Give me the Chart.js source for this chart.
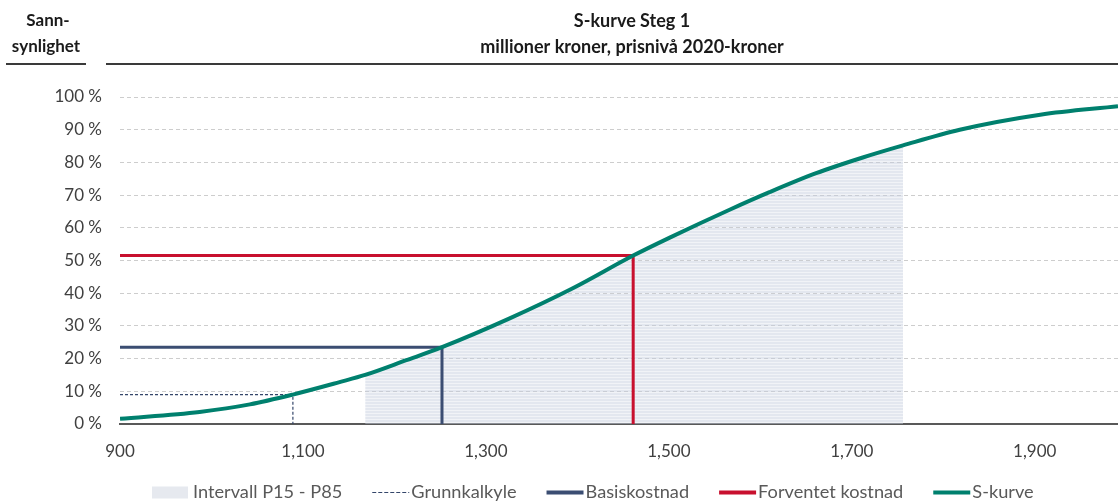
<!DOCTYPE html>
<html>
<head>
<meta charset="utf-8">
<script src="https://cdn.jsdelivr.net/npm/chart.js@4.4.1/dist/chart.umd.min.js"></script>
<style>
  html, body { margin: 0; padding: 0; background: #ffffff; }
  #wrap { width: 1118px; height: 501px; position: relative; }
</style>
</head>
<body>
<div id="wrap"><canvas id="c" width="1118" height="501"></canvas></div>
<script>
// S-curve: cost (MNOK) against cumulative probability (%)
const sCost = [900, 987, 1042, 1089, 1140, 1168, 1213, 1252, 1326, 1395, 1461, 1501, 1567, 1610, 1661, 1712, 1756, 1818, 1906, 1991];
const sProb = [1.6, 3.7, 6.0, 9.0, 12.8, 15.0, 19.5, 23.5, 32.3, 41.5, 51.5, 57.0, 65.6, 70.9, 76.7, 81.5, 85.2, 90.0, 94.6, 97.2];

// Interval P15 - P85 (cost bounds)
const intervalLow = 1168;
const intervalHigh = 1756;

// Reference estimates: cost and probability
const markerNames = ['Grunnkalkyle', 'Basiskostnad', 'Forventet kostnad'];
const markerCost = [1089, 1252, 1461];
const markerProb = [9.0, 23.5, 51.5];

// Axis ticks
const xTicks = [900, 1100, 1300, 1500, 1700, 1900];
const yTicks = [0, 10, 20, 30, 40, 50, 60, 70, 80, 90, 100];

// Titles and legend labels
const titleLines = ['S-kurve Steg 1', 'millioner kroner, prisnivå 2020-kroner'];
const yTitleLines = ['Sann-', 'synlighet'];
const legendLabels = ['Intervall P15 - P85', 'Grunnkalkyle', 'Basiskostnad', 'Forventet kostnad', 'S-kurve'];

const FONT = 'Lato, "Open Sans", "Liberation Sans", sans-serif';
const C_TEAL = '#00806E';
const C_NAVY = '#3B4D72';
const C_RED = '#C8102E';
const C_DASH = '#34466A';
const C_TEXT = '#404040';

// Striped fill for the interval
function stripePattern() {
  const p = document.createElement('canvas');
  p.width = 4; p.height = 3;
  const g = p.getContext('2d');
  g.fillStyle = 'rgba(196,205,222,0.48)';
  g.fillRect(0, 0, 4, 2);
  g.fillStyle = 'rgba(196,205,222,0.24)';
  g.fillRect(0, 2, 4, 1);
  return document.getElementById('c').getContext('2d').createPattern(p, 'repeat');
}

const curvePoints = sCost.map((c, i) => ({ x: c, y: sProb[i] }));
const intervalPoints = curvePoints.filter(p => p.x >= intervalLow && p.x <= intervalHigh);

const markerColors = [C_DASH, C_NAVY, C_RED];
const markerWidths = [1.2, 3, 3];
const markerDash = [[3, 2], [], []];
const markerSets = markerNames.map((name, i) => ({
  label: name,
  data: [
    { x: 900, y: markerProb[i] },
    { x: markerCost[i], y: markerProb[i] },
    { x: markerCost[i], y: 0 }
  ],
  borderColor: markerColors[i],
  borderWidth: markerWidths[i],
  borderDash: markerDash[i],
  pointRadius: 0,
  tension: 0,
  fill: false,
  order: 1
}));

// Titles, header rules and legend
const decorPlugin = {
  id: 'decor',
  afterDraw(chart) {
    const ctx = chart.ctx;
    ctx.save();
    ctx.fillStyle = '#1a1a1a';
    ctx.textAlign = 'center';
    ctx.textBaseline = 'middle';
    ctx.font = 'bold 17px ' + FONT;
    ctx.fillText(yTitleLines[0], 48, 21);
    ctx.fillText(yTitleLines[1], 46, 47);
    ctx.font = 'bold 18px ' + FONT;
    ctx.fillText(titleLines[0], 632, 21);
    ctx.fillText(titleLines[1], 632, 47);

    ctx.strokeStyle = '#3a3a3a';
    ctx.lineWidth = 2;
    ctx.beginPath();
    ctx.moveTo(6, 64); ctx.lineTo(86, 64);
    ctx.moveTo(106, 64); ctx.lineTo(1118, 64);
    ctx.stroke();

    // legend
    const ly = 492.5;
    let x = 152;
    ctx.font = '18.2px ' + FONT;
    ctx.textAlign = 'left';
    legendLabels.forEach((label, i) => {
      const sw = 37;
      if (i === 0) {
        ctx.fillStyle = '#E6E9EF';
        ctx.fillRect(x, ly - 6, 36, 12);
      } else {
        ctx.beginPath();
        if (i === 1) {
          ctx.setLineDash([4, 2]);
          ctx.lineWidth = 1.2;
          ctx.strokeStyle = C_DASH;
        } else {
          ctx.setLineDash([]);
          ctx.lineWidth = 4;
          ctx.strokeStyle = [null, null, C_NAVY, C_RED, C_TEAL][i];
        }
        ctx.moveTo(x, ly); ctx.lineTo(x + sw, ly);
        ctx.stroke();
        ctx.setLineDash([]);
      }
      const tx = x + sw + (i === 0 ? 4 : 2);
      ctx.fillStyle = '#595959';
      ctx.fillText(label, tx, ly);
      x = tx + ctx.measureText(label).width + 30;
    });
    ctx.restore();
  }
};

new Chart(document.getElementById('c'), {
  type: 'line',
  data: {
    datasets: [
      {
        label: 'S-kurve',
        data: curvePoints,
        borderColor: C_TEAL,
        borderWidth: 4,
        pointRadius: 0,
        cubicInterpolationMode: 'monotone',
        fill: false,
        order: 0
      },
      ...markerSets,
      {
        label: 'Intervall P15 - P85',
        data: intervalPoints,
        borderWidth: 0,
        borderColor: 'rgba(0,0,0,0)',
        backgroundColor: stripePattern(),
        pointRadius: 0,
        cubicInterpolationMode: 'monotone',
        fill: 'origin',
        order: 3
      }
    ]
  },
  options: {
    responsive: false,
    animation: false,
    layout: { padding: { top: 97, right: 0, bottom: 0, left: 0 } },
    plugins: {
      legend: { display: false },
      tooltip: { enabled: false },
      title: { display: false }
    },
    scales: {
      x: {
        type: 'linear',
        min: 900,
        max: 1991,
        afterBuildTicks: s => { s.ticks = xTicks.map(v => ({ value: v })); },
        afterFit: s => { s.height = 77; },
        grid: { display: false, drawTicks: false },
        border: { display: true, color: '#595959', width: 2 },
        ticks: {
          color: C_TEXT,
          font: { family: FONT, size: 17 },
          padding: 17,
          maxRotation: 0,
          callback: v => v.toLocaleString('en-US')
        }
      },
      y: {
        min: 0,
        max: 100,
        afterBuildTicks: s => { s.ticks = yTicks.map(v => ({ value: v })); },
        afterFit: s => { s.width = 120; },
        grid: { color: '#CDCDCD', lineWidth: 1, drawTicks: false },
        border: { display: false, dash: [4, 3] },
        ticks: {
          color: C_TEXT,
          font: { family: FONT, size: 17 },
          padding: 18,
          callback: v => v + ' %'
        }
      }
    }
  },
  plugins: [decorPlugin]
});
</script>
</body>
</html>
